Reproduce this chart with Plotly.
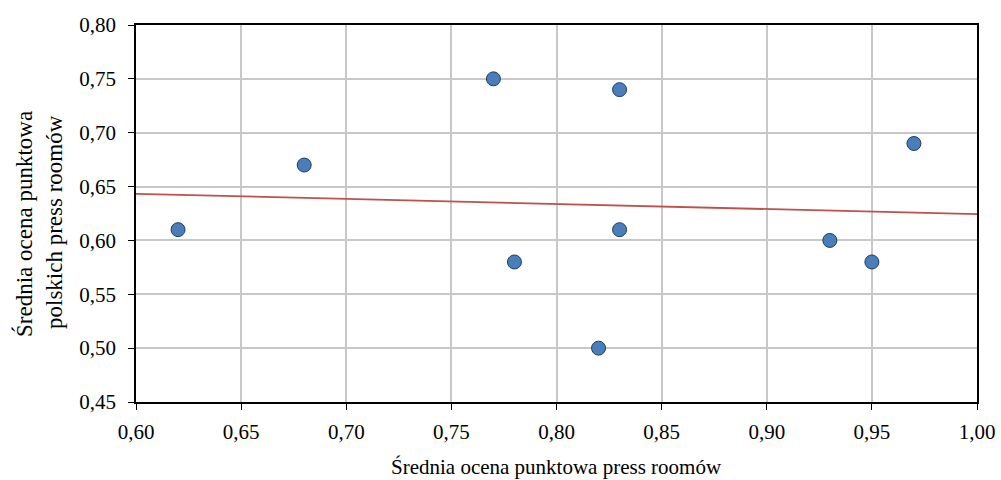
import numpy as np
import plotly.graph_objects as go

x_vals = [0.62, 0.68, 0.77, 0.78, 0.82, 0.83, 0.83, 0.93, 0.95, 0.97]
y_vals = [0.61, 0.67, 0.75, 0.58, 0.50, 0.74, 0.61, 0.60, 0.58, 0.69]
x_range = [0.60, 1.00]
y_range = [0.45, 0.80]
y_title_lines = ["Średnia ocena punktowa", "polskich press roomów"]
x_title = "Średnia ocena punktowa press roomów"

slope, intercept = np.polyfit(x_vals, y_vals, 1)
tx = np.array(x_range)
ty = slope * tx + intercept

font = "Liberation Serif, Times New Roman, serif"
L, R, T, B = 136, 24, 25, 78
W, H = 1001, 480
pw, ph = W - L - R, H - T - B

fig = go.Figure()
fig.add_trace(go.Scatter(x=tx, y=ty, mode="lines",
                         line=dict(color="#C0504D", width=1.8),
                         showlegend=False, hoverinfo="skip"))
fig.add_trace(go.Scatter(x=x_vals, y=y_vals, mode="markers",
                         marker=dict(size=14, color="#4A7EBB",
                                     line=dict(color="#1F3B5C", width=1)),
                         showlegend=False))

# y-axis title lines (two rotated lines)
for px, py, txt in zip([24, 54], [224, 222], y_title_lines):
    fig.add_annotation(text=txt, xref="paper", yref="paper",
                       x=(px - L) / pw, y=(H - B - py) / ph,
                       xanchor="center", yanchor="middle",
                       textangle=-90, showarrow=False,
                       font=dict(family=font, size=23, color="black"))
# x-axis title
fig.add_annotation(text=x_title, xref="paper", yref="paper",
                   x=0.5, y=(H - B - 467) / ph,
                   xanchor="center", yanchor="middle", showarrow=False,
                   font=dict(family=font, size=21, color="black"))

fig.update_layout(
    width=W, height=H,
    margin=dict(l=L, r=R, t=T, b=B, autoexpand=False),
    paper_bgcolor="white", plot_bgcolor="white",
    separators=", ",
    font=dict(family=font, size=21, color="black"),
    xaxis=dict(range=x_range, dtick=0.05, tickformat=".2f",
               showgrid=True, gridcolor="#C8C8C8", gridwidth=1.5,
               showline=True, linecolor="black", linewidth=1.5, mirror=True,
               ticks="outside", ticklen=6, tickcolor="black", tickwidth=1.3,
               ticklabelstandoff=4, automargin=False,
               zeroline=False),
    yaxis=dict(range=y_range, dtick=0.05, tickformat=".2f",
               showgrid=True, gridcolor="#C8C8C8", gridwidth=1.5,
               showline=True, linecolor="black", linewidth=1.5, mirror=True,
               ticks="outside", ticklen=6, tickcolor="black", tickwidth=1.3,
               ticklabelstandoff=8, automargin=False,
               zeroline=False),
)

fig.write_html("out.html")
